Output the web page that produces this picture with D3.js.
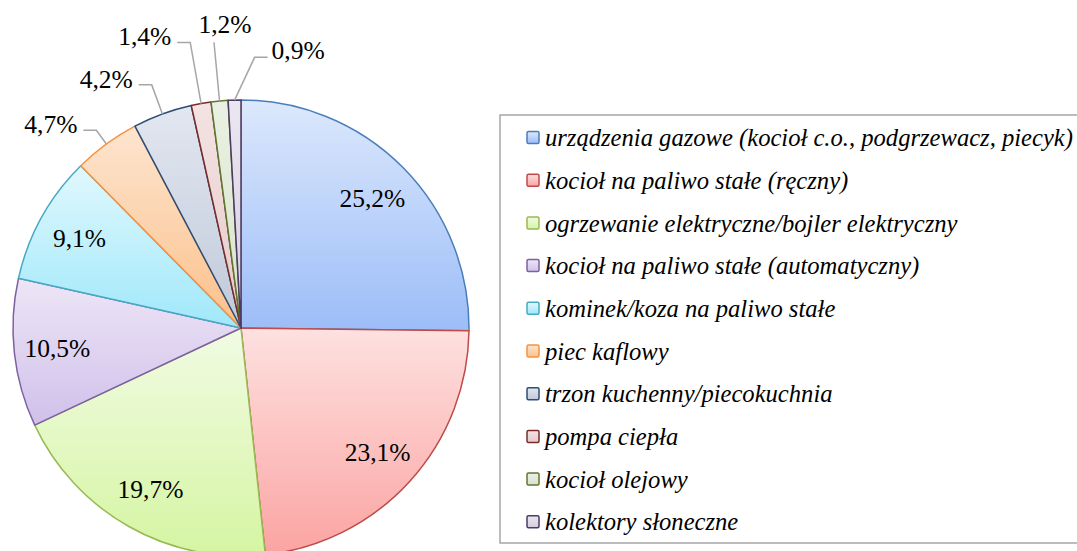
<!DOCTYPE html>
<meta charset="utf-8">
<style>
    body { margin: 0; background: #fff; }
    .slice-label { font-family: 'Liberation Serif', serif; font-size: 25.5px; fill: #000; }
    .legend-label { font-family: 'Liberation Serif', serif; font-style: italic; font-size: 24.6px; fill: #000; }
    .leader { stroke: #a6a6a6; stroke-width: 1.5px; fill: none; }
    .legend-box { stroke: #a6a6a6; stroke-width: 1.5px; fill: none; }
</style>
<body>
<div id="chart"></div>
<script src="https://cdn.jsdelivr.net/npm/d3@7"></script>
<script>
    var categories = [
        "urządzenia gazowe (kocioł c.o., podgrzewacz, piecyk)",
        "kocioł na paliwo stałe (ręczny)",
        "ogrzewanie elektryczne/bojler elektryczny",
        "kocioł na paliwo stałe (automatyczny)",
        "kominek/koza na paliwo stałe",
        "piec kaflowy",
        "trzon kuchenny/piecokuchnia",
        "pompa ciepła",
        "kocioł olejowy",
        "kolektory słoneczne"
    ];
    var values = [25.2, 23.1, 19.7, 10.5, 9.1, 4.7, 4.2, 1.4, 1.2, 0.9];

    // colours: line, gradient top, gradient bottom
    var strokeColors = ["#4a7ebb", "#be4b48", "#98b954", "#7d60a0", "#46aac5",
                        "#f69240", "#2c4d75", "#772c2a", "#5f7530", "#4d3b62"];
    var topColors = ["#dce8fc", "#fde1e0", "#f1fbe3", "#ede6f6", "#e0f8fd",
                     "#fde5cf", "#e2e7f0", "#f4e3e3", "#eaf1e3", "#ebe7f0"];
    var bottomColors = ["#9cbdf8", "#fba4a2", "#d5f5a2", "#d0c0ea", "#a0e8fa",
                        "#fcc08a", "#c0c9da", "#e5cac9", "#d7e3cb", "#d5cde0"];

    var width = 1077,
        height = 551;

    var cx = 241,
        cy = 328,
        radius = 228;

    // outside label layout for the small slices (extra radius, side, angle nudge in degrees)
    var outsideExtra = {5: 17, 6: 31, 7: 62, 8: 59, 9: 43};
    var outsideSide = {5: -1, 6: -1, 7: -1, 8: 0, 9: 1};
    var outsideNudge = {5: 0, 6: 0, 7: 0, 8: 0, 9: 4.5};

    var pl = d3.formatLocale({decimal: ",", thousands: " ", grouping: [3], currency: ["", ""]});
    var fmt = pl.format(".1f");

    var svg = d3.select("#chart").append("svg")
        .attr("width", width)
        .attr("height", height);

    var defs = svg.append("defs");
    values.forEach((v, i) => {
        var g = defs.append("linearGradient")
            .attr("id", "grad" + i)
            .attr("x1", 0).attr("y1", 0)
            .attr("x2", 0).attr("y2", 1);
        g.append("stop").attr("offset", "0%").attr("stop-color", topColors[i]);
        g.append("stop").attr("offset", "100%").attr("stop-color", bottomColors[i]);
    });

    var pie = d3.pie().sort(null).value(d => d);
    var arcs = pie(values);

    var arc = d3.arc().innerRadius(0).outerRadius(radius);

    var pieG = svg.append("g")
        .attr("transform", "translate(" + cx + "," + cy + ")");

    pieG.selectAll(".slice")
        .data(arcs)
        .enter().append("path")
        .attr("class", "slice")
        .attr("d", arc)
        .attr("fill", (d, i) => "url(#grad" + i + ")")
        .attr("stroke", (d, i) => strokeColors[i])
        .attr("stroke-width", 1.5)
        .attr("stroke-linejoin", "round");

    function polar(a, r) {
        return [r * Math.sin(a), -r * Math.cos(a)];
    }

    // inside labels
    pieG.selectAll(".inside")
        .data(arcs.filter(d => d.value >= 5))
        .enter().append("text")
        .attr("class", "slice-label")
        .attr("text-anchor", "middle")
        .attr("dy", "0.35em")
        .attr("transform", d => {
            var a = (d.startAngle + d.endAngle) / 2;
            var p = polar(a, radius * 0.81);
            return "translate(" + p + ")";
        })
        .text(d => fmt(d.value) + "%");

    // outside labels with leader lines
    var small = arcs.filter(d => d.value < 5);

    small.forEach(d => {
        var i = d.index;
        var a = (d.startAngle + d.endAngle) / 2;
        var start = polar(a, radius);
        var elbow = polar(a + outsideNudge[i] * Math.PI / 180, radius + outsideExtra[i]);
        var side = outsideSide[i];
        var pts = [start, elbow];
        if (side !== 0) pts.push([elbow[0] + side * 13, elbow[1]]);

        pieG.append("path")
            .attr("class", "leader")
            .attr("d", d3.line()(pts));

        var t = pieG.append("text")
            .attr("class", "slice-label")
            .attr("dy", "0.35em")
            .text(fmt(d.value) + "%");

        if (side === -1) {
            t.attr("text-anchor", "end")
             .attr("x", elbow[0] - 19)
             .attr("y", elbow[1] - 6);
        } else if (side === 1) {
            t.attr("text-anchor", "start")
             .attr("x", elbow[0] + 17)
             .attr("y", elbow[1] - 7);
        } else {
            t.attr("text-anchor", "middle")
             .attr("x", elbow[0] + 11)
             .attr("y", elbow[1] - 18);
        }
    });

    // legend
    var legendX = 500,
        legendTop = 115,
        legendBottom = 543,
        rowTop = 138,
        rowStep = 42.7;

    var legend = svg.append("g");

    legend.append("rect")
        .attr("class", "legend-box")
        .attr("x", legendX)
        .attr("y", legendTop)
        .attr("width", width)
        .attr("height", legendBottom - legendTop);

    var rows = legend.selectAll(".legend-row")
        .data(categories)
        .enter().append("g")
        .attr("class", "legend-row")
        .attr("transform", (d, i) => "translate(527," + (rowTop + i * rowStep) + ")");

    rows.append("rect")
        .attr("x", 0)
        .attr("y", -6.5)
        .attr("width", 12)
        .attr("height", 12)
        .attr("rx", 1.5)
        .attr("fill", (d, i) => "url(#grad" + i + ")")
        .attr("stroke", (d, i) => strokeColors[i])
        .attr("stroke-width", 1.5);

    rows.append("text")
        .attr("class", "legend-label")
        .attr("x", 18)
        .attr("dy", "0.33em")
        .text(d => d);
</script>
</body>
